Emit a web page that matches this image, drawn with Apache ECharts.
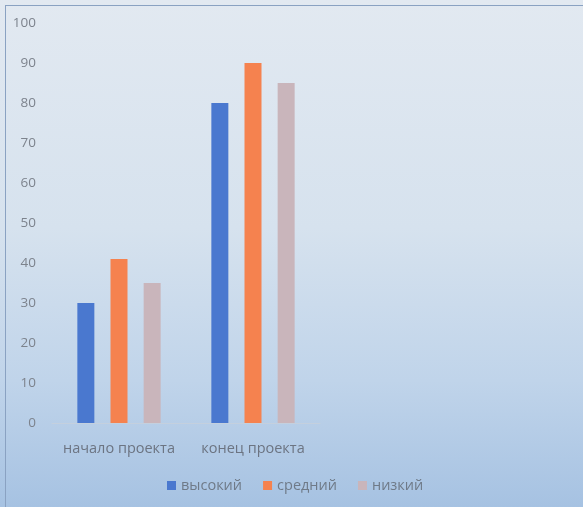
<!DOCTYPE html>
<html><head><meta charset="utf-8">
<script src="https://cdn.jsdelivr.net/npm/echarts@6/dist/echarts.min.js"></script>
<style>
html,body{margin:0;padding:0;width:583px;height:507px;overflow:hidden;
background:linear-gradient(to bottom,#e2e9f1 0%,#d6e2ee 45%,#c0d4ea 75%,#a6c2e2 100%);}
#frame{position:absolute;left:5px;top:5px;width:590px;height:510px;border-left:1.5px solid #8aa2c2;border-top:1.5px solid #8aa2c2;}
#c{position:absolute;left:0;top:0;width:583px;height:507px;}
</style></head>
<body><div id="frame"></div><div id="c"></div>
<script>
const categories = ['начало проекта', 'конец проекта'];
const seriesNames = ['высокий', 'средний', 'низкий'];
const high = [30, 80];
const mid = [41, 90];
const low = [35, 85];
const yTicks = [0, 10, 20, 30, 40, 50, 60, 70, 80, 90, 100];

const chart = echarts.init(document.getElementById('c'));
const colors = ['#4a78cf', '#f5824f', '#c9b5bb'];
chart.setOption({
  backgroundColor: 'transparent',
  animation: false,
  color: colors,
  grid: {left: 52, top: 23, width: 268, bottom: 84, containLabel: false},
  legend: {
    bottom: 9, left: 162, itemWidth: 9, itemHeight: 9, itemGap: 21,
    icon: 'rect',
    textStyle: {color: '#6f7a88', fontSize: 14.5, fontFamily: 'Open Sans'},
    data: seriesNames
  },
  xAxis: {
    type: 'category', data: categories,
    axisLine: {show: true, lineStyle: {color: '#c4d0de'}},
    axisTick: {show: false},
    axisLabel: {color: '#6c7482', fontSize: 14.5, fontFamily: 'Open Sans', margin: 18, interval: 0, hideOverlap: false}
  },
  yAxis: {
    type: 'value', min: yTicks[0], max: yTicks[yTicks.length - 1], interval: 10,
    axisLine: {show: false}, axisTick: {show: false},
    splitLine: {show: false},
    axisLabel: {color: '#7d838d', fontSize: 13.5, fontFamily: 'Open Sans', margin: 16, align: 'right'}
  },
  series: [
    {name: seriesNames[0], type: 'bar', data: high, barWidth: 17, barGap: '95%'},
    {name: seriesNames[1], type: 'bar', data: mid, barWidth: 17, barGap: '95%'},
    {name: seriesNames[2], type: 'bar', data: low, barWidth: 17, barGap: '95%'}
  ]
});
</script></body></html>
